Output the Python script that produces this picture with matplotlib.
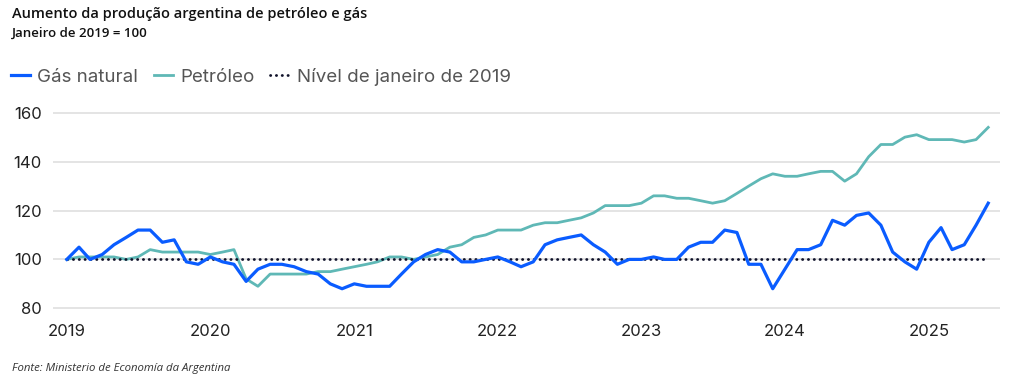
import numpy as np
import pandas as pd
import matplotlib
matplotlib.use("Agg")
import matplotlib.pyplot as plt
import matplotlib.dates as mdates

# --- data (Jan 2019 = 100), monthly, Jan 2019 .. Jun 2025 ---
months = pd.date_range("2019-01-01", "2025-06-01", freq="MS")

gas = [100, 105, 100, 102, 106, 109, 112, 112, 107, 108, 99, 98,
       101, 99, 98, 91, 96, 98, 98, 97, 95, 94, 90, 88,
       90, 89, 89, 89, 94, 99, 102, 104, 103, 99, 99, 100,
       101, 99, 97, 99, 106, 108, 109, 110, 106, 103, 98, 100,
       100, 101, 100, 100, 105, 107, 107, 112, 111, 98, 98, 88,
       96, 104, 104, 106, 116, 114, 118, 119, 114, 103, 99, 96,
       107, 113, 104, 106, 114, 123]

oil = [100, 101, 101, 101, 101, 100, 101, 104, 103, 103, 103, 103,
       102, 103, 104, 92, 89, 94, 94, 94, 94, 95, 95, 96,
       97, 98, 99, 101, 101, 100, 101, 102, 105, 106, 109, 110,
       112, 112, 112, 114, 115, 115, 116, 117, 119, 122, 122, 122,
       123, 126, 126, 125, 125, 124, 123, 124, 127, 130, 133, 135,
       134, 134, 135, 136, 136, 132, 135, 142, 147, 147, 150, 151,
       149, 149, 149, 148, 149, 154]

baseline = 100
y_ticks = [80, 100, 120, 140, 160]

BLUE = "#0a5cff"
TEAL = "#5fb8b6"
DOTS = "#10122a"

plt.rcParams["font.family"] = ["Inter", "DejaVu Sans"]

fig = plt.figure(figsize=(10.24, 3.81), dpi=100)
ax = fig.add_axes([0.0518, 0.178, 0.9248, 0.539])

ax.plot(months, oil, color=TEAL, lw=2.0, zorder=3, label="Petróleo")
ax.plot(months, [baseline] * len(months), color=DOTS, lw=2.0,
        linestyle=(0, (0.1, 2.0)), dash_capstyle="round", zorder=4,
        label="Nível de janeiro de 2019")
ax.plot(months, gas, color=BLUE, lw=2.3, zorder=5, label="Gás natural")

ax.set_ylim(78, 162)
ax.set_yticks(y_ticks)
ax.set_xlim(pd.Timestamp("2018-11-27"), pd.Timestamp("2025-07-01"))
ax.xaxis.set_major_locator(mdates.YearLocator())
ax.xaxis.set_major_formatter(mdates.DateFormatter("%Y"))

for s in ax.spines.values():
    s.set_visible(False)
ax.grid(axis="y", color="#dcdcdc", lw=1.1)
ax.grid(axis="x", visible=False)
ax.tick_params(axis="both", length=0, labelsize=12, colors="#222222")
ax.tick_params(axis="y", pad=8)
ax.tick_params(axis="x", pad=8)

# legend in the order of the reference
h, l = ax.get_legend_handles_labels()
order = [2, 0, 1]
fig.legend([h[i] for i in order], [l[i] for i in order],
           loc="center left", bbox_to_anchor=(-0.006, 0.798), ncol=3,
           frameon=False, fontsize=13.5, handlelength=1.05,
           handletextpad=0.35, columnspacing=0.85, labelcolor="#555555")

fig.text(0.012, 0.963, "Aumento da produção argentina de petróleo e gás",
         fontsize=10.5, fontweight="semibold", family=["Open Sans", "DejaVu Sans"],
         color="#111111", va="center")
fig.text(0.012, 0.913, "Janeiro de 2019 = 100",
         fontsize=9.5, fontweight="semibold", family=["Open Sans", "DejaVu Sans"],
         color="#111111", va="center")
fig.text(0.012, 0.034, "Fonte: Ministerio de Economía da Argentina",
         fontsize=8.2, style="italic", family=["Open Sans", "DejaVu Sans"],
         color="#333333", va="center")

fig.savefig("out.png", dpi=100)
